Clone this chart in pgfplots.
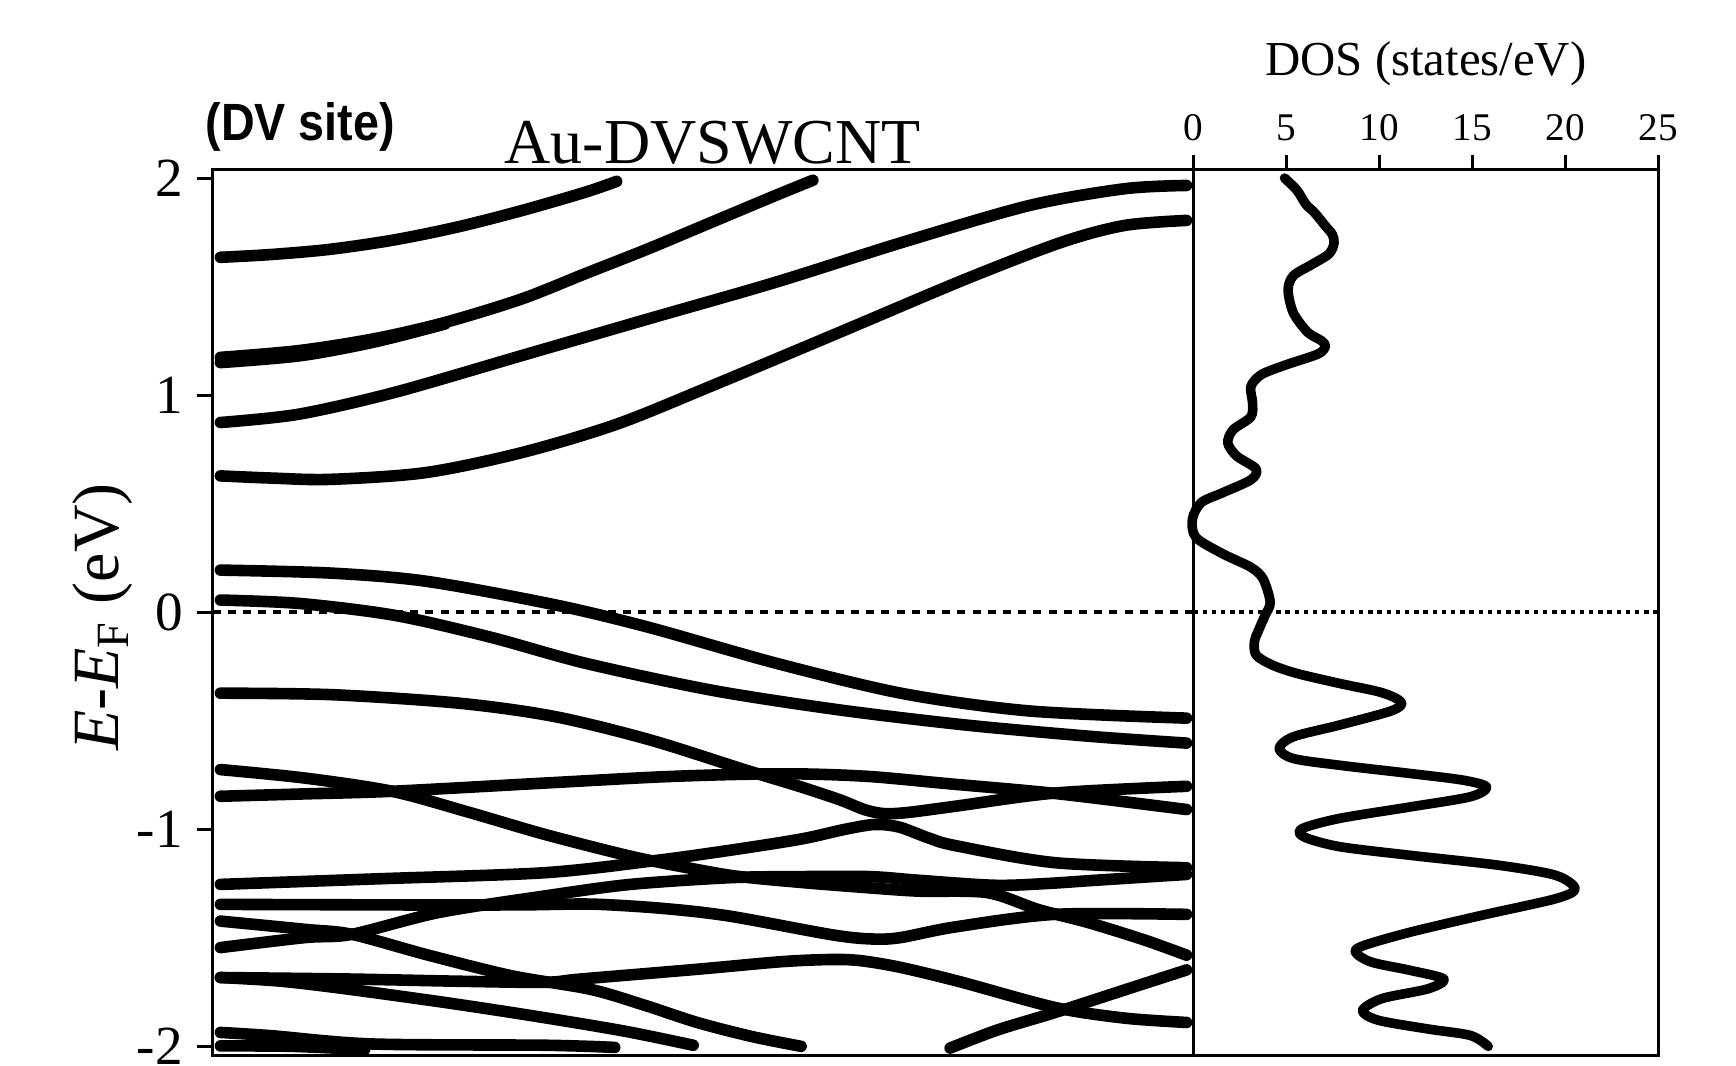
\documentclass[border=0pt]{standalone}
\usepackage{pgfplots}
\pgfplotsset{compat=1.18}
\usepackage{graphicx}
\usepackage{fontspec}
\setmainfont{Liberation Serif}
\newfontfamily\arialfont{Liberation Sans}

\pgfplotsset{
  bandline/.style={black, line width=2.9pt, line cap=round, line join=round, smooth, tension=0.5},
  frame/.style={axis line style={line width=0.75pt}, major tick style={black, line width=0.75pt}},
}

\begin{document}
\begin{tikzpicture}
% band structure panel
\begin{axis}[name=bands, at={(0pt,0pt)}, anchor=south west,
  scale only axis, width=245.2pt, height=221.4pt,
  xmin=0, xmax=1, ymin=-2.04, ymax=2.04,
  xtick=\empty,
  ytick={-2,-1,0,1,2}, yticklabels={-2,-1,0,1,2}, ytick pos=left,
  tick align=outside, major tick length=3.9pt, frame,
  yticklabel style={font=\fontsize{13.8}{15}\selectfont},
  clip=false]
\addplot[black, line width=0.9pt, dash pattern=on 2pt off 1.8pt] coordinates {(0,0) (1,0)};
% conduction bands
\addplot[bandline] coordinates {(0.008,1.635) (0.06,1.648) (0.12,1.672) (0.185,1.715) (0.25,1.775) (0.315,1.85) (0.38,1.935) (0.412,1.985)};
\addplot[bandline] coordinates {(0.008,1.174) (0.0875,1.205) (0.165,1.26) (0.237,1.335) (0.315,1.443) (0.379,1.558) (0.444,1.674) (0.509,1.797) (0.574,1.92) (0.612,1.99)};
\addplot[bandline] coordinates {(0.008,1.150) (0.09,1.182) (0.165,1.245) (0.237,1.328)};
\addplot[bandline] coordinates {(0.008,0.874) (0.0875,0.912) (0.185,1.012) (0.315,1.182) (0.444,1.351) (0.574,1.52) (0.704,1.705) (0.833,1.874) (0.93,1.951) (0.993,1.966)};
\addplot[bandline] coordinates {(0.008,0.628) (0.06,0.618) (0.12,0.612) (0.217,0.643) (0.315,0.735) (0.412,0.866) (0.509,1.043) (0.639,1.289) (0.768,1.535) (0.866,1.705) (0.93,1.782) (0.993,1.805)};
% bands near the Fermi level
\addplot[bandline] coordinates {(0.008,0.194) (0.1216,0.180) (0.2187,0.142) (0.348,0.035) (0.445,-0.07) (0.5745,-0.235) (0.704,-0.375) (0.833,-0.455) (0.993,-0.488)};
\addplot[bandline] coordinates {(0.008,0.056) (0.0894,0.040) (0.1864,-0.015) (0.2833,-0.115) (0.380,-0.235) (0.5097,-0.36) (0.639,-0.45) (0.7685,-0.52) (0.898,-0.573) (0.993,-0.603)};
\addplot[bandline] coordinates {(0.008,-0.373) (0.122,-0.380) (0.251,-0.419) (0.348,-0.480) (0.445,-0.587) (0.542,-0.725) (0.60,-0.805) (0.64,-0.865) (0.665,-0.91) (0.685,-0.928) (0.71,-0.922) (0.757,-0.894) (0.859,-0.833) (0.993,-0.802)};
% valence bands
\addplot[bandline] coordinates {(0.008,-0.848) (0.094,-0.837) (0.183,-0.825) (0.339,-0.787) (0.45,-0.76) (0.528,-0.748) (0.6,-0.745) (0.67,-0.757) (0.75,-0.79) (0.859,-0.835) (0.993,-0.909)};
\addplot[bandline] coordinates {(0.008,-0.725) (0.094,-0.764) (0.183,-0.825) (0.26,-0.92) (0.339,-1.024) (0.426,-1.124) (0.484,-1.177) (0.534,-1.216) (0.6,-1.245) (0.67,-1.27) (0.72,-1.285) (0.79,-1.292) (0.842,-1.37) (0.893,-1.43) (0.95,-1.51) (0.993,-1.58)};
\addplot[bandline] coordinates {(0.008,-1.254) (0.17,-1.228) (0.339,-1.200) (0.45,-1.145) (0.53,-1.095) (0.60,-1.045) (0.645,-1.0) (0.675,-0.978) (0.70,-0.99) (0.73,-1.04) (0.757,-1.075) (0.859,-1.154) (0.993,-1.177)};
\addplot[bandline] coordinates {(0.008,-1.545) (0.094,-1.499) (0.142,-1.484) (0.23,-1.384) (0.339,-1.307) (0.426,-1.254) (0.528,-1.223) (0.6,-1.218) (0.67,-1.218) (0.72,-1.235) (0.797,-1.258) (0.85,-1.25) (0.9,-1.235) (0.993,-1.208)};
\addplot[bandline] coordinates {(0.008,-1.346) (0.23,-1.349) (0.32,-1.348) (0.388,-1.345) (0.46,-1.365) (0.527,-1.40) (0.63,-1.485) (0.67,-1.505) (0.70,-1.50) (0.757,-1.45) (0.859,-1.392) (0.993,-1.392)};
\addplot[bandline] coordinates {(0.008,-1.423) (0.094,-1.461) (0.142,-1.484) (0.22,-1.58) (0.305,-1.675) (0.385,-1.737) (0.44,-1.81) (0.494,-1.89) (0.55,-1.955) (0.60,-2.0)};
\addplot[bandline] coordinates {(0.008,-1.683) (0.14,-1.69) (0.25,-1.70) (0.339,-1.705) (0.375,-1.69) (0.494,-1.645) (0.58,-1.61) (0.63,-1.60) (0.66,-1.605) (0.70,-1.635) (0.76,-1.70) (0.859,-1.821) (0.93,-1.87) (0.993,-1.89)};
\addplot[bandline] coordinates {(0.008,-1.683) (0.07,-1.70) (0.139,-1.737) (0.24,-1.80) (0.33,-1.862) (0.42,-1.93) (0.49,-1.995)};
\addplot[bandline] coordinates {(0.008,-1.936) (0.06,-1.951) (0.162,-1.989) (0.339,-1.995) (0.41,-2.005)};
\addplot[bandline] coordinates {(0.008,-1.998) (0.08,-2.0) (0.155,-2.015)};
\addplot[bandline] coordinates {(0.752,-2.008) (0.80,-1.925) (0.859,-1.844) (0.93,-1.74) (0.993,-1.648)};
\end{axis}

% DOS panel
\begin{axis}[at={(bands.south east)}, anchor=south west,
  scale only axis, width=116.25pt, height=221.4pt,
  xmin=0, xmax=25, ymin=-2.04, ymax=2.04,
  ytick=\empty,
  xtick={0,5,10,15,20,25}, xticklabels={0,5,10,15,20,25},
  xtick pos=right, xticklabel pos=right,
  tick align=outside, major tick length=3.6pt, frame,
  xticklabel style={font=\fontsize{9.8}{11}\selectfont},
  clip=false]
\addplot[black, line width=1pt, dash pattern=on 1.1pt off 1.2pt] coordinates {(0,0) (25,0)};
\addplot[black, line width=2.4pt, line cap=round, line join=round, smooth, tension=0.5] coordinates {
 (4.90,2.00) (5.56,1.945) (6.04,1.88) (6.52,1.84) (7.09,1.78) (7.47,1.74) (7.56,1.70)
 (7.28,1.65) (6.33,1.60) (5.37,1.55) (5.09,1.485) (5.37,1.38) (6.14,1.29) (6.90,1.25)
 (7.09,1.225) (6.71,1.19) (4.99,1.14) (3.66,1.095) (3.09,1.04) (3.18,0.965) (3.09,0.90)
 (2.13,0.84) (1.85,0.78) (2.32,0.72) (3.37,0.66) (3.09,0.61) (1.56,0.55) (0.42,0.505)
 (-0.05,0.43) (0.13,0.345) (1.56,0.27) (3.09,0.207) (3.75,0.153) (4.13,0.046) (3.85,-0.015)
 (3.47,-0.09) (3.28,-0.135) (3.37,-0.197) (4.23,-0.243) (5.56,-0.282) (7.85,-0.328)
 (9.94,-0.366) (10.9,-0.397) (11.19,-0.425) (10.52,-0.458) (7.85,-0.52) (5.37,-0.574)
 (4.61,-0.628) (5.37,-0.674) (7.85,-0.705) (11.66,-0.743) (14.52,-0.774) (15.76,-0.805)
 (14.9,-0.85) (11.66,-0.897) (7.85,-0.95) (5.85,-0.997) (5.94,-1.035) (7.85,-1.08)
 (11.66,-1.12) (16.43,-1.166) (19.47,-1.212) (20.52,-1.274) (19.47,-1.32) (15.47,-1.397)
 (11.66,-1.474) (9.18,-1.535) (8.71,-1.566) (9.57,-1.612) (11.66,-1.65) (13.47,-1.69)
 (12.61,-1.735) (10.14,-1.78) (9.09,-1.835) (9.95,-1.88) (12.61,-1.92) (14.90,-1.95) (15.85,-2.0)};
\end{axis}

% texts
\node[rotate=90, anchor=base, inner sep=0pt, font=\fontsize{16.5}{18}\selectfont] at (-23.6pt,109.5pt) {\textit{E}-\textit{E}\textsubscript{F} (eV)};
\node[anchor=base west, inner sep=0pt] at (-1.95pt,228.6pt) {\scalebox{0.89}[1]{\arialfont\bfseries\fontsize{13.1}{15}\selectfont (DV site)}};
\node[anchor=base west, inner sep=0pt, font=\fontsize{16}{18}\selectfont] at (72.8pt,222.9pt) {Au-DVSWCNT};
\node[anchor=base, inner sep=0pt, font=\fontsize{12.2}{14}\selectfont] at (303.3pt,244.9pt) {DOS (states/eV)};

\pgfresetboundingbox
\path (-53.15pt,-2.5pt) rectangle (380.85pt,263.75pt);
\end{tikzpicture}
\end{document}
